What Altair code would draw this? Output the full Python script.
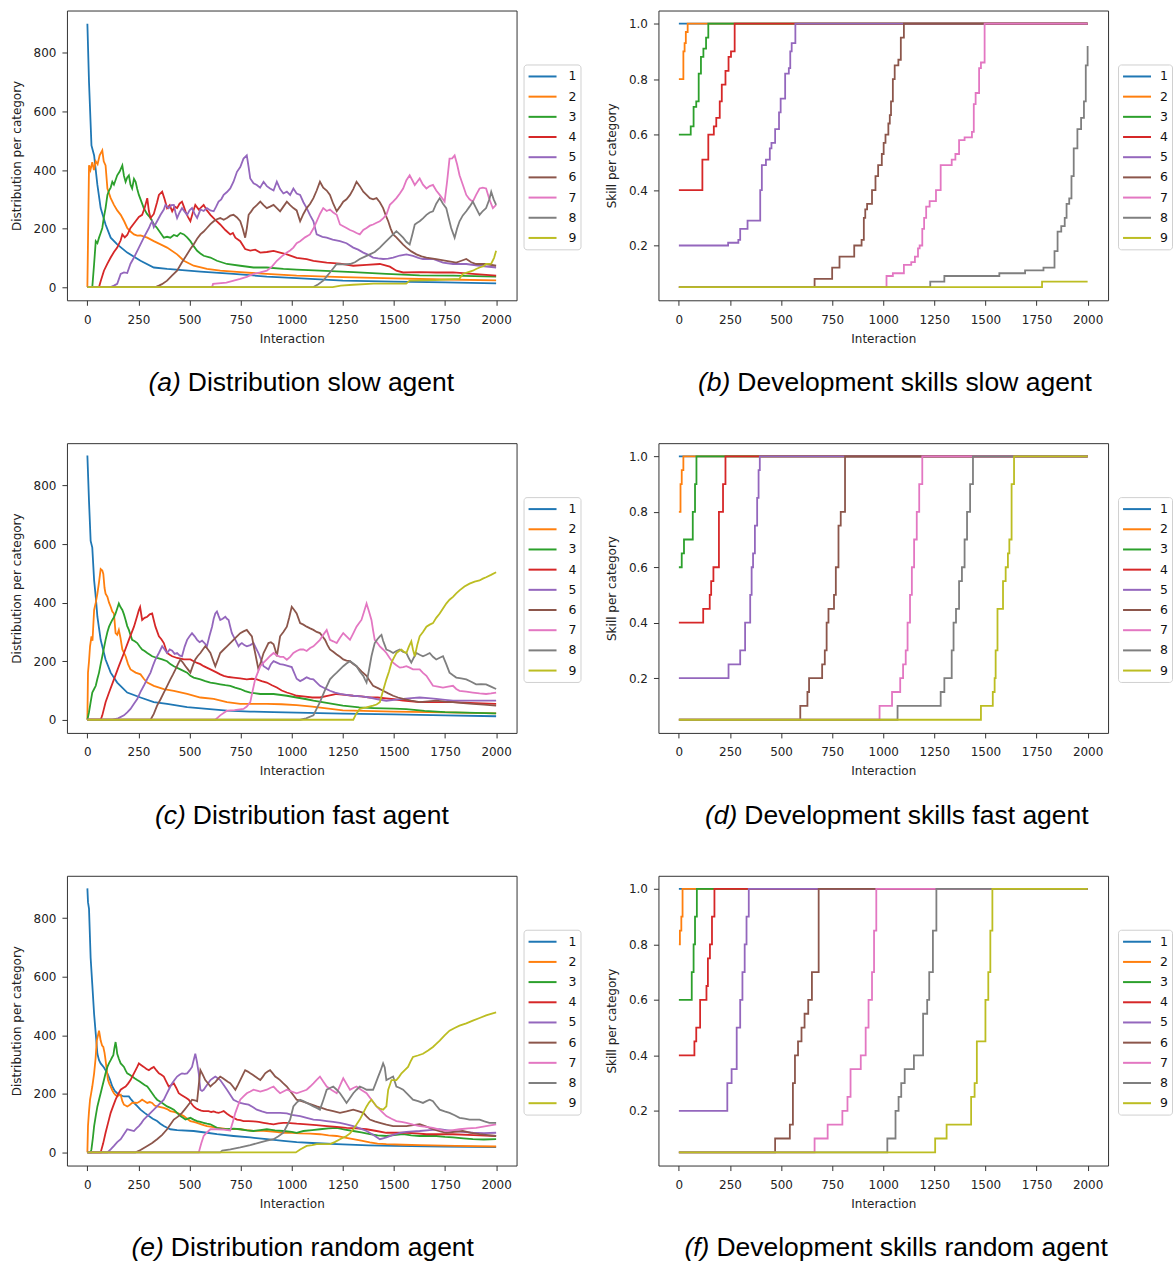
import altair as alt
import pandas as pd

SERIES = ["1", "2", "3", "4", "5", "6", "7", "8", "9"]
COLORS = ["#1f77b4", "#ff7f0e", "#2ca02c", "#d62728", "#9467bd",
          "#8c564b", "#e377c2", "#7f7f7f", "#bcbd22"]
X_TICKS = [0, 250, 500, 750, 1000, 1250, 1500, 1750, 2000]
DIST_TICKS = [0, 200, 400, 600, 800]
SKILL_TICKS = [0.2, 0.4, 0.6, 0.8, 1.0]

# ---------------- (a) Distribution slow agent ----------------
A1 = [(0,900),(8,700),(20,484),(33,450),(49,349),(65,270),(89,214),(114,169),(146,146),(195,118),(260,90),(325,67),(390,62),(553,53),(715,45),(878,36),(1024,31),(1250,22),(1500,19),(1750,16),(2000,13)]
A2 = [(0,0),(8,416),(15,400),(24,427),(32,400),(41,430),(50,420),(60,450),(73,467),(80,430),(89,416),(98,337),(114,304),(130,281),(146,262),(163,247),(180,225),(195,202),(211,190),(228,180),(244,176),(260,177),(293,169),(325,157),(358,146),(390,135),(439,112),(472,90),(520,73),(585,62),(650,56),(748,51),(878,45),(1024,39),(1250,34),(1500,30),(1750,26),(2000,23)]
A3 = [(0,0),(24,0),(33,80),(41,157),(49,150),(57,169),(65,185),(73,202),(81,240),(89,270),(98,315),(106,330),(114,340),(122,360),(130,350),(146,382),(158,395),(171,416),(179,380),(187,360),(195,375),(203,382),(211,350),(219,337),(228,370),(236,360),(244,335),(252,315),(276,270),(292,250),(309,236),(325,215),(341,202),(358,185),(374,169),(390,172),(406,169),(423,178),(439,174),(455,185),(472,180),(488,170),(504,157),(520,140),(537,124),(553,115),(569,107),(602,101),(634,90),(683,79),(748,73),(813,67),(878,67),(959,62),(1024,60),(1138,56),(1301,51),(1463,45),(1626,40),(1789,39),(2000,36)]
A4 = [(0,0),(57,0),(65,20),(81,56),(98,80),(114,101),(130,120),(146,135),(163,160),(171,180),(183,170),(195,178),(211,202),(236,225),(252,240),(268,247),(280,270),(293,304),(301,260),(309,236),(325,250),(341,290),(350,315),(366,326),(378,300),(390,270),(403,280),(415,259),(427,275),(439,270),(451,285),(463,292),(472,275),(480,259),(492,240),(504,225),(516,255),(528,281),(545,265),(553,270),(569,281),(585,262),(602,247),(626,230),(650,214),(675,195),(699,180),(712,185),(724,169),(748,157),(772,130),(797,125),(821,128),(846,118),(878,120),(911,124),(943,118),(976,112),(1024,100),(1073,96),(1106,90),(1171,84),(1236,80),(1301,73),(1366,76),(1431,79),(1480,70),(1512,56),(1545,50),(1626,51),(1707,50),(1789,50),(1886,45),(2000,39)]
A5 = [(0,0),(114,0),(130,5),(146,11),(163,45),(179,50),(195,48),(211,80),(228,101),(252,135),(276,169),(301,202),(309,215),(317,225),(325,205),(341,225),(358,247),(374,265),(382,281),(398,270),(411,280),(423,281),(431,255),(439,236),(451,255),(463,270),(476,258),(488,247),(500,262),(512,270),(525,250),(537,236),(553,265),(569,260),(585,270),(602,262),(618,259),(630,275),(642,292),(655,300),(667,315),(683,325),(699,337),(715,360),(732,394),(748,410),(764,439),(780,450),(789,410),(797,371),(813,355),(829,349),(845,340),(862,360),(878,345),(894,337),(911,330),(927,360),(943,335),(959,320),(976,326),(992,315),(1008,337),(1024,320),(1041,315),(1057,290),(1073,270),(1090,245),(1106,225),(1122,180),(1150,172),(1171,169),(1200,162),(1236,157),(1268,150),(1301,135),(1325,128),(1350,118),(1375,110),(1398,101),(1423,98),(1447,96),(1472,97),(1496,101),(1529,108),(1561,112),(1593,107),(1620,100),(1642,96),(1691,96),(1740,84),(1789,79),(1854,79),(1919,73),(2000,67)]
A6 = [(0,0),(333,0),(350,5),(365,10),(390,22),(415,40),(439,56),(463,85),(488,112),(504,130),(520,146),(537,165),(553,180),(569,190),(585,202),(602,215),(618,225),(634,232),(650,236),(667,230),(683,236),(699,244),(715,247),(732,238),(748,225),(760,200),(772,169),(780,200),(789,247),(801,258),(813,270),(829,280),(846,292),(862,280),(878,270),(894,275),(911,281),(927,270),(943,259),(959,275),(976,292),(992,280),(1008,270),(1024,262),(1041,225),(1057,250),(1073,270),(1090,285),(1106,304),(1122,330),(1138,360),(1154,340),(1171,330),(1187,315),(1203,285),(1220,259),(1236,275),(1252,292),(1268,300),(1285,315),(1301,335),(1317,360),(1333,345),(1350,326),(1366,315),(1382,304),(1398,300),(1415,304),(1431,290),(1447,270),(1460,245),(1472,225),(1484,200),(1496,180),(1512,170),(1529,157),(1545,145),(1561,135),(1585,122),(1610,112),(1635,105),(1659,101),(1707,96),(1756,90),(1805,84),(1830,90),(1854,96),(1878,85),(1902,79),(1951,79),(2000,73)]
A7 = [(0,0),(610,0),(615,11),(680,15),(748,28),(780,35),(813,45),(846,50),(878,56),(903,70),(927,90),(951,105),(976,118),(992,125),(1008,135),(1024,150),(1041,157),(1065,170),(1089,180),(1106,200),(1122,225),(1138,250),(1154,270),(1171,260),(1187,265),(1203,255),(1220,247),(1236,214),(1252,208),(1268,202),(1285,195),(1301,191),(1317,185),(1333,180),(1350,195),(1366,202),(1382,210),(1398,214),(1415,220),(1431,225),(1447,235),(1463,247),(1472,265),(1480,281),(1496,292),(1512,304),(1529,320),(1545,337),(1561,365),(1577,382),(1590,365),(1602,349),(1614,360),(1626,371),(1642,350),(1659,337),(1675,345),(1691,349),(1707,330),(1724,315),(1740,300),(1748,292),(1760,360),(1772,439),(1785,440),(1797,450),(1809,420),(1821,382),(1837,350),(1854,315),(1870,300),(1886,292),(1902,315),(1919,337),(1935,340),(1951,337),(1967,300),(1984,270),(2000,281)]
A8 = [(0,0),(1106,0),(1130,10),(1154,22),(1187,50),(1220,79),(1252,78),(1285,79),(1309,85),(1333,96),(1358,104),(1382,112),(1406,120),(1431,135),(1455,152),(1480,169),(1496,180),(1512,191),(1529,180),(1545,169),(1561,155),(1577,146),(1590,180),(1602,214),(1614,220),(1626,225),(1642,235),(1659,247),(1675,255),(1691,259),(1707,285),(1724,304),(1740,285),(1756,270),(1768,235),(1780,202),(1797,169),(1809,200),(1821,225),(1837,245),(1854,259),(1870,275),(1886,292),(1902,270),(1919,247),(1935,260),(1951,270),(1967,300),(1976,326),(1988,300),(2000,281)]
A9 = [(0,0),(1200,0),(1240,5),(1300,8),(1400,12),(1560,12),(1577,22),(1700,24),(1820,28),(1837,45),(1860,50),(1886,56),(1902,62),(1919,67),(1940,72),(1951,79),(1976,80),(1990,100),(2000,124)]

# ---------------- (b) Development skills slow agent ----------------
B1 = [(0,1.0),(2000,1.0)]
B2 = [(0,0.8),(22,0.9),(28,0.93),(34,0.97),(43,1.0),(2000,1.0)]
B3 = [(0,0.6),(58,0.63),(72,0.7),(85,0.72),(97,0.82),(108,0.88),(120,0.91),(133,0.95),(144,1.0),(2000,1.0)]
B4 = [(0,0.4),(115,0.51),(144,0.6),(171,0.63),(183,0.66),(200,0.72),(210,0.78),(228,0.83),(243,0.88),(255,0.9),(273,1.0),(2000,1.0)]
B5 = [(0,0.2),(241,0.21),(291,0.22),(300,0.26),(336,0.29),(398,0.4),(406,0.49),(426,0.51),(445,0.55),(453,0.57),(471,0.62),(490,0.68),(498,0.73),(520,0.82),(538,0.84),(545,0.9),(552,0.93),(570,1.0),(2000,1.0)]
B6 = [(0,0.05),(664,0.08),(750,0.12),(786,0.16),(858,0.2),(894,0.22),(905,0.3),(912,0.33),(921,0.35),(945,0.4),(962,0.45),(975,0.49),(993,0.53),(1002,0.57),(1011,0.6),(1025,0.64),(1032,0.67),(1038,0.72),(1047,0.8),(1056,0.85),(1074,0.87),(1086,0.95),(1101,1.0),(2000,1.0)]
B7 = [(0,0.05),(1016,0.09),(1047,0.1),(1101,0.13),(1137,0.14),(1155,0.16),(1170,0.19),(1178,0.2),(1191,0.26),(1200,0.3),(1210,0.34),(1227,0.36),(1258,0.4),(1281,0.49),(1335,0.51),(1353,0.53),(1371,0.58),(1398,0.59),(1434,0.61),(1443,0.71),(1452,0.75),(1469,0.84),(1478,0.86),(1496,1.0),(2000,1.0)]
B8 = [(0,0.05),(1230,0.07),(1299,0.09),(1568,0.1),(1694,0.11),(1784,0.12),(1838,0.18),(1853,0.25),(1871,0.27),(1888,0.3),(1897,0.35),(1910,0.37),(1921,0.45),(1932,0.55),(1950,0.62),(1968,0.66),(1982,0.72),(1991,0.85),(2000,0.92)]
B9 = [(0,0.05),(1777,0.07),(2000,0.07)]

# ---------------- (c) Distribution fast agent ----------------
C1 = [(0,903),(8,746),(16,611),(24,588),(33,476),(41,420),(49,352),(65,273),(89,206),(114,161),(146,127),(195,93),(260,76),(325,60),(390,54),(488,43),(585,37),(683,31),(797,28),(911,26),(1024,24),(1250,21),(1500,18),(1750,15),(2000,12)]
C2 = [(0,0),(3,161),(8,200),(13,251),(20,285),(25,270),(33,375),(41,400),(49,431),(57,470),(65,515),(73,510),(78,498),(84,450),(89,431),(98,420),(106,400),(114,386),(122,370),(130,363),(138,296),(146,290),(154,307),(162,280),(171,240),(187,217),(199,190),(211,172),(236,161),(260,155),(276,140),(293,127),(325,116),(374,105),(423,99),(488,88),(553,76),(618,71),(683,60),(748,54),(813,54),(878,54),(950,53),(1024,50),(1100,45),(1180,38),(1250,32),(1350,30),(1500,28),(1750,25),(2000,22)]
C3 = [(0,0),(8,26),(16,60),(24,93),(33,105),(41,116),(49,140),(57,161),(65,190),(73,217),(81,245),(89,273),(98,300),(106,318),(114,330),(122,341),(130,350),(138,363),(146,380),(154,397),(162,385),(171,375),(179,360),(187,341),(195,320),(203,307),(211,290),(219,273),(232,268),(244,262),(256,250),(268,240),(280,235),(293,228),(317,217),(341,211),(366,206),(390,200),(406,190),(423,183),(455,172),(488,161),(504,150),(520,144),(553,138),(577,132),(602,127),(626,124),(650,121),(675,118),(699,116),(723,110),(748,105),(772,98),(797,93),(846,88),(911,88),(976,82),(1024,76),(1073,70),(1106,65),(1171,58),(1250,48),(1330,42),(1400,40),(1500,38),(1560,36),(1650,30),(1750,26),(2000,22)]
C4 = [(0,0),(65,0),(73,15),(89,60),(106,93),(130,138),(154,183),(179,228),(203,273),(228,318),(244,355),(252,375),(258,385),(268,341),(280,348),(293,352),(305,360),(317,363),(325,340),(333,318),(350,285),(362,275),(374,262),(390,228),(403,222),(415,217),(439,211),(472,206),(504,206),(520,200),(537,194),(553,190),(569,183),(602,172),(634,161),(650,155),(667,150),(691,146),(715,144),(748,141),(780,138),(805,140),(829,138),(853,132),(878,127),(903,118),(927,110),(951,100),(976,93),(1000,88),(1024,82),(1057,80),(1100,76),(1138,76),(1180,82),(1220,88),(1260,85),(1301,82),(1340,80),(1382,76),(1420,76),(1463,73),(1500,70),(1545,65),(1626,60),(1700,60),(1789,60),(1900,57),(2000,54)]
C5 = [(0,0),(122,0),(150,5),(179,15),(195,25),(211,37),(228,55),(244,71),(260,95),(276,116),(293,140),(309,161),(321,185),(333,206),(350,228),(366,251),(378,240),(390,228),(403,240),(415,236),(427,225),(439,228),(451,220),(463,217),(476,250),(488,273),(500,285),(512,296),(525,285),(537,273),(549,265),(561,270),(573,262),(585,251),(597,285),(610,318),(618,345),(626,363),(634,370),(642,355),(650,341),(662,345),(675,352),(683,345),(691,341),(699,318),(707,296),(715,285),(724,273),(732,262),(740,251),(748,258),(756,262),(768,255),(780,251),(797,255),(813,262),(825,245),(837,228),(850,205),(862,183),(874,178),(886,172),(898,190),(911,200),(927,195),(943,190),(959,188),(976,185),(1000,180),(1024,140),(1041,132),(1057,138),(1073,145),(1090,140),(1106,138),(1122,127),(1138,116),(1163,107),(1187,99),(1212,93),(1236,88),(1268,85),(1301,82),(1340,80),(1382,76),(1420,70),(1463,65),(1500,68),(1545,71),(1585,74),(1626,76),(1667,74),(1707,71),(1750,68),(1789,65),(1900,65),(2000,65)]
C6 = [(0,0),(309,0),(325,20),(341,48),(358,70),(374,93),(390,115),(406,138),(419,155),(431,172),(443,190),(455,206),(468,195),(480,183),(492,172),(504,161),(516,185),(528,206),(540,218),(553,228),(565,240),(577,251),(590,240),(602,228),(614,205),(626,183),(638,205),(650,228),(667,240),(683,251),(699,262),(715,273),(732,285),(748,296),(764,302),(780,307),(793,295),(805,285),(813,255),(821,228),(829,200),(837,172),(850,200),(862,228),(874,245),(886,262),(898,265),(911,258),(919,240),(927,217),(935,250),(943,285),(959,300),(976,318),(988,350),(1000,386),(1012,375),(1024,363),(1041,330),(1057,325),(1073,318),(1090,312),(1106,307),(1122,300),(1138,296),(1150,285),(1163,273),(1175,255),(1187,240),(1203,232),(1220,223),(1236,215),(1252,206),(1268,202),(1285,200),(1301,190),(1317,183),(1341,165),(1366,150),(1382,132),(1398,116),(1422,108),(1447,99),(1472,90),(1496,82),(1520,76),(1545,71),(1585,65),(1626,60),(1667,63),(1707,65),(1748,62),(1789,60),(1840,57),(1886,54),(1940,52),(2000,48)]
C7 = [(0,0),(626,0),(650,15),(683,31),(720,33),(764,37),(780,45),(797,60),(809,100),(821,138),(833,160),(846,183),(862,195),(878,206),(894,218),(911,228),(927,220),(943,215),(959,215),(976,205),(992,215),(1008,228),(1024,235),(1041,240),(1057,240),(1073,235),(1090,245),(1106,251),(1122,262),(1138,273),(1154,290),(1171,307),(1179,290),(1187,273),(1203,268),(1220,262),(1236,280),(1252,296),(1268,285),(1285,273),(1301,295),(1317,318),(1329,330),(1341,341),(1354,370),(1366,397),(1378,370),(1390,341),(1398,305),(1406,273),(1419,262),(1431,251),(1447,240),(1463,228),(1480,210),(1496,195),(1512,186),(1529,178),(1545,180),(1561,183),(1577,178),(1593,172),(1610,172),(1626,172),(1642,160),(1659,150),(1675,133),(1691,116),(1715,113),(1740,110),(1765,113),(1789,116),(1805,105),(1821,99),(1854,96),(1886,93),(1919,90),(1951,88),(1975,90),(2000,93)]
C8 = [(0,0),(1041,0),(1070,5),(1106,15),(1122,38),(1138,60),(1162,100),(1187,138),(1203,150),(1220,161),(1236,172),(1252,183),(1268,192),(1285,200),(1301,192),(1317,183),(1333,165),(1350,150),(1358,138),(1366,127),(1378,170),(1390,217),(1398,240),(1406,262),(1419,275),(1431,285),(1439,290),(1447,270),(1455,255),(1463,240),(1480,235),(1496,228),(1512,235),(1529,240),(1545,232),(1561,228),(1573,210),(1585,195),(1597,212),(1610,228),(1626,222),(1642,217),(1659,222),(1675,228),(1691,215),(1707,206),(1724,212),(1740,217),(1756,190),(1772,161),(1789,152),(1805,144),(1829,141),(1854,138),(1878,130),(1902,121),(1926,122),(1951,121),(1975,113),(2000,105)]
C9 = [(0,0),(1301,0),(1315,20),(1333,37),(1365,42),(1398,48),(1415,52),(1431,60),(1447,100),(1463,138),(1476,165),(1488,195),(1500,212),(1512,228),(1525,235),(1537,240),(1549,232),(1561,228),(1573,250),(1585,268),(1593,240),(1602,217),(1614,255),(1626,285),(1642,300),(1659,318),(1675,325),(1691,330),(1707,348),(1724,363),(1740,380),(1756,397),(1772,410),(1789,420),(1805,432),(1821,442),(1845,455),(1870,465),(1895,472),(1919,476),(1935,482),(1951,487),(1975,495),(2000,504)]

# ---------------- (d) Development skills fast agent ----------------
D1 = [(0,1.0),(2000,1.0)]
D2 = [(0,0.8),(8,0.9),(14,0.95),(22,1.0),(2000,1.0)]
D3 = [(0,0.6),(14,0.65),(25,0.7),(68,0.8),(79,0.9),(86,1.0),(2000,1.0)]
D4 = [(0,0.4),(119,0.45),(151,0.5),(158,0.55),(169,0.6),(196,0.8),(216,0.9),(228,1.0),(2000,1.0)]
D5 = [(0,0.2),(243,0.25),(300,0.3),(324,0.4),(349,0.5),(356,0.6),(363,0.65),(372,0.75),(383,0.85),(390,0.95),(396,1.0),(2000,1.0)]
D6 = [(0,0.05),(594,0.1),(629,0.15),(637,0.2),(701,0.25),(714,0.3),(723,0.4),(732,0.45),(759,0.5),(768,0.6),(781,0.75),(792,0.8),(813,1.0),(2000,1.0)]
D7 = [(0,0.05),(982,0.1),(1043,0.15),(1083,0.2),(1097,0.25),(1110,0.3),(1119,0.4),(1131,0.5),(1140,0.6),(1151,0.7),(1164,0.8),(1176,0.9),(1191,1.0),(2000,1.0)]
D8 = [(0,0.05),(1070,0.1),(1281,0.15),(1299,0.2),(1335,0.3),(1344,0.4),(1356,0.45),(1371,0.55),(1385,0.6),(1398,0.7),(1410,0.8),(1425,0.9),(1439,1.0),(2000,1.0)]
D9 = [(0,0.05),(1478,0.1),(1536,0.15),(1545,0.2),(1550,0.3),(1559,0.45),(1586,0.55),(1599,0.6),(1610,0.65),(1617,0.7),(1628,0.9),(1640,1.0),(2000,1.0)]

# ---------------- (e) Distribution random agent ----------------
E1 = [(0,902),(3,855),(8,832),(16,664),(24,574),(33,472),(41,405),(49,337),(57,315),(65,304),(81,290),(98,270),(110,250),(122,225),(134,210),(146,202),(163,195),(179,191),(203,191),(215,180),(228,169),(244,158),(260,146),(280,135),(301,124),(320,115),(341,107),(357,98),(374,90),(390,84),(406,79),(439,76),(520,73),(585,67),(634,62),(715,56),(797,51),(878,45),(959,39),(1024,35),(1100,32),(1250,27),(1375,24),(1500,22),(1750,20),(2000,18)]
E2 = [(0,0),(3,90),(8,140),(13,180),(18,200),(24,225),(33,270),(40,320),(46,382),(52,400),(57,416),(62,395),(65,382),(72,365),(78,360),(84,340),(89,315),(95,280),(101,247),(107,235),(114,225),(122,212),(130,202),(138,196),(146,191),(155,195),(163,197),(171,175),(179,163),(187,160),(195,157),(207,162),(219,169),(231,170),(244,169),(256,174),(268,180),(280,175),(293,169),(305,172),(317,169),(329,160),(341,157),(358,155),(374,152),(390,148),(406,141),(423,138),(439,135),(455,130),(472,124),(488,115),(504,107),(520,104),(537,101),(561,95),(585,90),(610,87),(634,84),(660,82),(683,79),(716,80),(748,79),(780,76),(813,73),(846,74),(878,73),(920,70),(959,67),(1000,67),(1040,65),(1090,64),(1138,62),(1180,58),(1220,56),(1260,50),(1301,45),(1340,40),(1382,34),(1420,30),(1463,28),(1545,26),(1626,25),(1800,22),(2000,20)]
E3 = [(0,0),(16,0),(20,11),(27,50),(33,90),(41,125),(49,157),(57,180),(65,202),(73,225),(81,247),(89,270),(98,292),(106,305),(114,315),(121,325),(127,332),(132,355),(138,377),(142,360),(146,337),(154,320),(163,304),(171,298),(179,292),(187,280),(195,270),(207,265),(219,259),(231,253),(244,247),(256,242),(268,236),(280,230),(293,225),(305,214),(317,202),(329,190),(341,180),(353,175),(366,169),(378,163),(390,157),(406,152),(423,146),(439,135),(455,124),(468,118),(480,112),(492,115),(504,118),(520,112),(537,107),(553,104),(569,101),(585,98),(602,96),(618,90),(634,84),(658,80),(683,79),(716,81),(748,79),(780,75),(813,73),(846,76),(878,79),(918,75),(959,73),(1000,70),(1024,67),(1057,73),(1100,76),(1138,79),(1180,82),(1220,84),(1260,78),(1301,73),(1340,68),(1382,62),(1420,58),(1463,56),(1500,59),(1545,62),(1585,58),(1626,56),(1667,56),(1707,56),(1750,53),(1789,51),(1840,48),(1886,45),(1940,44),(2000,45)]
E4 = [(0,0),(65,0),(77,30),(89,67),(101,100),(114,135),(126,158),(138,180),(150,198),(163,214),(175,220),(187,225),(199,235),(211,247),(224,265),(236,281),(244,292),(252,304),(264,298),(276,292),(289,285),(301,281),(313,287),(325,292),(338,280),(350,270),(362,265),(374,259),(386,242),(398,225),(411,230),(423,236),(435,220),(447,202),(460,196),(472,191),(484,186),(496,180),(508,168),(520,157),(533,150),(545,146),(557,143),(569,141),(581,141),(593,141),(606,138),(618,140),(630,137),(642,135),(655,138),(667,141),(683,132),(699,124),(716,118),(732,112),(748,110),(764,107),(789,107),(813,106),(838,104),(862,101),(887,98),(911,96),(935,99),(959,101),(976,101),(1024,98),(1073,96),(1120,93),(1171,90),(1220,87),(1268,84),(1318,82),(1366,79),(1415,73),(1463,67),(1512,67),(1561,67),(1610,65),(1659,62),(1720,62),(1789,62),(1890,59),(2000,56)]
E5 = [(0,0),(98,0),(114,10),(130,22),(146,35),(163,45),(179,62),(195,79),(211,76),(228,73),(240,82),(252,90),(264,100),(276,112),(293,124),(309,135),(325,146),(341,157),(358,169),(374,180),(386,197),(398,214),(406,225),(415,236),(427,248),(439,259),(451,265),(463,270),(476,268),(488,270),(500,280),(512,292),(520,315),(528,337),(536,310),(545,270),(549,240),(553,214),(561,210),(569,214),(585,230),(602,247),(614,253),(626,259),(638,253),(650,247),(667,230),(683,214),(699,197),(715,180),(732,174),(748,169),(768,166),(789,163),(809,155),(829,146),(854,140),(878,135),(910,135),(943,135),(976,133),(1000,128),(1041,124),(1073,118),(1106,112),(1138,110),(1171,107),(1203,104),(1236,101),(1268,96),(1301,90),(1333,82),(1366,73),(1398,60),(1431,45),(1447,48),(1463,51),(1496,60),(1529,67),(1561,70),(1593,72),(1626,73),(1675,76),(1724,79),(1756,76),(1789,73),(1837,70),(1886,67),(1940,66),(2000,67)]
E6 = [(0,0),(236,0),(260,8),(293,22),(317,32),(341,45),(366,60),(390,79),(406,95),(423,112),(443,122),(463,135),(476,146),(488,157),(500,168),(512,180),(525,178),(537,175),(545,230),(553,281),(565,265),(577,247),(590,236),(602,225),(614,233),(626,240),(638,250),(650,259),(663,253),(675,247),(687,241),(699,236),(712,225),(724,214),(736,230),(748,247),(760,264),(772,281),(785,276),(797,270),(809,265),(821,259),(833,253),(846,247),(858,258),(870,270),(882,276),(894,281),(907,270),(919,259),(931,253),(943,247),(959,236),(976,225),(992,210),(1008,195),(1024,180),(1048,175),(1073,169),(1098,163),(1122,157),(1146,152),(1171,146),(1203,141),(1236,135),(1268,140),(1301,146),(1325,141),(1350,135),(1366,123),(1382,112),(1406,106),(1431,101),(1463,95),(1496,90),(1529,90),(1561,90),(1594,93),(1626,96),(1659,88),(1691,79),(1723,73),(1756,67),(1797,70),(1837,73),(1878,67),(1919,62),(1960,59),(2000,56)]
E7 = [(0,0),(545,0),(557,30),(569,56),(585,68),(602,79),(634,79),(667,78),(699,75),(712,105),(724,135),(736,158),(748,180),(764,191),(780,202),(797,208),(813,214),(830,211),(846,208),(862,211),(878,214),(894,220),(911,225),(927,213),(943,202),(959,208),(976,214),(1000,208),(1024,202),(1049,208),(1073,214),(1090,225),(1106,236),(1122,248),(1138,259),(1154,242),(1171,225),(1195,213),(1220,202),(1236,228),(1252,253),(1268,234),(1285,214),(1301,220),(1317,225),(1341,213),(1366,202),(1390,180),(1415,157),(1439,140),(1463,124),(1488,115),(1512,107),(1537,104),(1561,101),(1594,95),(1626,90),(1659,87),(1691,84),(1724,78),(1756,73),(1789,76),(1821,79),(1862,82),(1902,84),(1951,90),(2000,96)]
E8 = [(0,0),(650,0),(660,6),(700,10),(748,17),(797,25),(846,34),(878,40),(911,45),(935,55),(959,67),(976,90),(992,112),(1008,157),(1024,170),(1041,180),(1057,175),(1073,169),(1090,163),(1106,157),(1122,152),(1138,146),(1155,180),(1171,214),(1187,220),(1203,225),(1220,214),(1236,202),(1252,186),(1268,169),(1285,186),(1301,202),(1317,214),(1333,225),(1350,220),(1366,214),(1382,214),(1398,214),(1410,235),(1423,259),(1435,280),(1447,304),(1455,290),(1463,247),(1480,253),(1496,259),(1504,242),(1512,225),(1529,220),(1545,214),(1569,197),(1593,180),(1618,175),(1642,169),(1659,175),(1675,180),(1691,175),(1707,160),(1724,146),(1748,140),(1772,135),(1797,127),(1821,118),(1846,115),(1870,112),(1895,112),(1919,112),(1943,106),(1967,101),(2000,101)]
E9 = [(0,0),(1020,0),(1041,10),(1073,22),(1100,25),(1122,28),(1187,28),(1210,35),(1236,45),(1268,56),(1285,65),(1301,79),(1317,95),(1333,112),(1350,135),(1366,157),(1378,170),(1390,180),(1403,168),(1415,157),(1431,150),(1447,146),(1463,157),(1468,190),(1472,214),(1480,230),(1488,247),(1500,247),(1512,247),(1525,258),(1537,270),(1553,281),(1569,292),(1581,310),(1593,326),(1617,331),(1642,337),(1667,348),(1691,360),(1707,371),(1724,382),(1748,400),(1772,416),(1797,425),(1821,433),(1854,441),(1886,450),(1919,459),(1951,468),(1975,473),(2000,478)]

# ---------------- (f) Development skills random agent ----------------
F1 = [(0,1.0),(2000,1.0)]
F2 = [(0,0.8),(5,0.85),(12,0.9),(18,1.0),(2000,1.0)]
F3 = [(0,0.6),(63,0.7),(72,0.8),(79,0.9),(88,1.0),(2000,1.0)]
F4 = [(0,0.4),(76,0.45),(85,0.5),(104,0.6),(135,0.65),(142,0.75),(152,0.8),(162,0.9),(174,1.0),(2000,1.0)]
F5 = [(0,0.2),(237,0.3),(258,0.35),(283,0.5),(300,0.6),(311,0.7),(322,0.8),(331,0.9),(342,1.0),(2000,1.0)]
F6 = [(0,0.05),(471,0.1),(543,0.15),(558,0.3),(568,0.4),(583,0.45),(600,0.5),(615,0.55),(633,0.6),(651,0.7),(684,1.0),(2000,1.0)]
F7 = [(0,0.05),(664,0.1),(728,0.15),(800,0.2),(825,0.25),(840,0.35),(890,0.4),(914,0.5),(928,0.6),(945,0.7),(955,0.85),(966,1.0),(2000,1.0)]
F8 = [(0,0.05),(1020,0.1),(1060,0.2),(1075,0.25),(1088,0.3),(1105,0.35),(1150,0.4),(1195,0.55),(1215,0.6),(1225,0.7),(1243,0.85),(1260,1.0),(2000,1.0)]
F9 = [(0,0.05),(1254,0.1),(1310,0.15),(1430,0.25),(1447,0.3),(1458,0.45),(1500,0.6),(1514,0.7),(1524,0.85),(1534,1.0),(2000,1.0)]

CAPTIONS = [
    ("(a)", "Distribution slow agent"),
    ("(b)", "Development skills slow agent"),
    ("(c)", "Distribution fast agent"),
    ("(d)", "Development skills fast agent"),
    ("(e)", "Distribution random agent"),
    ("(f)", "Development skills random agent"),
]
CAPTION_X = [121, 79, 126, 86, 104, 58]

PW, PH = 450, 290
AXIS_FONT = "DejaVu Sans"
CAP_FONT = "Liberation Sans"


def to_frame(series_lists):
    rows = []
    for name, pts in zip(SERIES, series_lists):
        for i, (x, y) in enumerate(pts):
            rows.append({"s": name, "x": x, "y": y, "i": i})
    return pd.DataFrame(rows)


def panel(series_lists, kind, cap, cap_x, legend_x, label_offset):
    df = to_frame(series_lists)
    if kind == "dist":
        ysc = alt.Scale(domain=[-45, 945], nice=False, zero=False)
        yax = alt.Axis(values=DIST_TICKS, title="Distribution per category", format="d")
        interp = "linear"
    else:
        ysc = alt.Scale(domain=[0.0025, 1.0475], nice=False, zero=False)
        yax = alt.Axis(values=SKILL_TICKS, title="Skill per category", format=".1f")
        interp = "step-after"
    lines = alt.Chart(df).mark_line(strokeWidth=1.8, interpolate=interp, clip=True).encode(
        x=alt.X("x:Q", scale=alt.Scale(domain=[-100, 2100], nice=False, zero=False),
                axis=alt.Axis(values=X_TICKS, title="Interaction", format="d")),
        y=alt.Y("y:Q", scale=ysc, axis=yax),
        color=alt.Color("s:N", scale=alt.Scale(domain=SERIES, range=COLORS),
                        legend=alt.Legend(title=None, orient="none", legendX=legend_x, legendY=54,
                                          symbolType="M-2,0H2", symbolSize=196,
                                          symbolStrokeWidth=2, symbolOffset=7,
                                          labelFontSize=12.5,
                                          labelFont=AXIS_FONT, labelColor="#111",
                                          strokeColor="#d0d0d0", fillColor="white",
                                          padding=4, cornerRadius=3, rowPadding=5.2,
                                          labelOffset=label_offset)),
        order="i:Q",
    )
    capdf = pd.DataFrame({"tag": [cap[0]], "text": [cap[1]]})
    t1 = alt.Chart(capdf).mark_text(align="right", baseline="alphabetic", font=CAP_FONT,
                                    fontSize=26.5, fontStyle="italic", color="black").encode(
        x=alt.value(cap_x - 7), y=alt.value(381), text="tag:N")
    t2 = alt.Chart(capdf).mark_text(align="left", baseline="alphabetic", font=CAP_FONT,
                                    fontSize=26.5, color="black").encode(
        x=alt.value(cap_x), y=alt.value(381), text="text:N")
    return alt.layer(lines, t1, t2).properties(width=PW, height=PH)


pa = panel([A1, A2, A3, A4, A5, A6, A7, A8, A9], "dist", CAPTIONS[0], CAPTION_X[0], 457, 18)
pb = panel([B1, B2, B3, B4, B5, B6, B7, B8, B9], "skill", CAPTIONS[1], CAPTION_X[1], 460, 15)
pc = panel([C1, C2, C3, C4, C5, C6, C7, C8, C9], "dist", CAPTIONS[2], CAPTION_X[2], 457, 18)
pd_ = panel([D1, D2, D3, D4, D5, D6, D7, D8, D9], "skill", CAPTIONS[3], CAPTION_X[3], 460, 15)
pe = panel([E1, E2, E3, E4, E5, E6, E7, E8, E9], "dist", CAPTIONS[4], CAPTION_X[4], 457, 18)
pf = panel([F1, F2, F3, F4, F5, F6, F7, F8, F9], "skill", CAPTIONS[5], CAPTION_X[5], 460, 15)


def row(left, right):
    return alt.hconcat(left, right, spacing=23).resolve_scale(
        color="independent").resolve_legend(color="independent")


chart = alt.vconcat(row(pa, pb), row(pc, pd_), row(pe, pf), spacing=45).resolve_scale(
    color="independent"
).resolve_legend(
    color="independent"
).properties(
    padding={"left": 9, "top": 9, "right": 0, "bottom": 0},
    background="white",
).configure_view(
    stroke="#333", strokeWidth=1
).configure_axis(
    labelFont=AXIS_FONT, titleFont=AXIS_FONT, labelFontSize=12, titleFontSize=12,
    titleFontWeight="normal", labelColor="#222", titleColor="#222", grid=False,
    domain=False, tickColor="#333", tickSize=5, labelPadding=6,
).configure_axisY(
    titlePadding=10
).configure_axisX(
    titlePadding=8, labelPadding=9
)

chart.save("out.html", embed_options={"renderer": "svg", "actions": False})
